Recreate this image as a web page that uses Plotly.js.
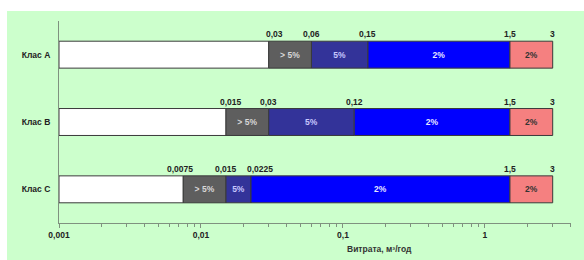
<!DOCTYPE html>
<html><head><meta charset="utf-8">
<script src="https://cdn.plot.ly/plotly-3.0.1.min.js"></script>
<style>html,body{margin:0;padding:0;background:#fff;}#chart{position:absolute;left:7px;top:11px;width:577px;height:249px;}</style>
</head><body><div id="chart"></div>
<script>
// Data
const classes = ['Клас А', 'Клас В', 'Клас С'];
const axisMin = 0.001;
const lim1 = [0.03, 0.015, 0.0075];
const lim2 = [0.06, 0.03, 0.015];
const lim3 = [0.15, 0.12, 0.0225];
const lim4 = [1.5, 1.5, 1.5];
const lim5 = [3, 3, 3];
const segLabels = ['', '> 5%', '5%', '2%', '2%'];
const tickVals = [0.001, 0.01, 0.1, 1];
const tickText = ['0,001', '0,01', '0,1', '1'];
const axisTitle = 'Витрата, м³/год';

const FONT = 'Liberation Sans, Arial, sans-serif';
const starts = [classes.map(() => axisMin), lim1, lim2, lim3, lim4];
const ends = [lim1, lim2, lim3, lim4, lim5];
const colors = ['#ffffff', '#5e5e5e', '#333399', '#0000ff', '#f58080'];
const txtColors = ['#000', '#d8d8d8', '#c8c8ff', '#e6e6ff', '#333'];

const traces = starts.map((s, i) => ({
  type: 'bar', orientation: 'h', y: classes,
  base: s, x: ends[i].map((e, k) => e - s[k]),
  width: 0.4,
  marker: {color: colors[i], line: {color: '#3a3a3a', width: 1}},
  text: classes.map(() => segLabels[i]),
  textposition: 'inside', insidetextanchor: 'middle', textangle: 0,
  textfont: {family: FONT, size: 8.5, color: txtColors[i], weight: 'bold'},
  hoverinfo: 'skip', showlegend: false, cliponaxis: false
}));

// minor tick positions on the log axis (2..9 within each decade)
const minorVals = [];
[0.001, 0.01, 0.1, 1].forEach(d => { for (let m = 2; m <= 9; m++) { if (d * m <= 4) minorVals.push(d * m); } });

const fmt = v => String(v).replace('.', ',');
const shifts = {'2-0': -3, '2-2': 9, '0-0': 6, '1-0': 5};
const anns = [];
[lim1, lim2, lim3, lim4, lim5].forEach((arr, j) => {
  arr.forEach((v, k) => {
    anns.push({x: Math.log10(v), y: k - 0.2, xref: 'x', yref: 'y',
      text: fmt(v), showarrow: false, yanchor: 'bottom', xanchor: 'center',
      xshift: shifts[k + '-' + j] || 0, yshift: 0,
      font: {family: FONT, size: 8.5, color: '#222', weight: 'bold'}});
  });
});
anns.push({x: 0.625, y: -0.13, xref: 'paper', yref: 'paper', text: axisTitle,
  showarrow: false, xanchor: 'center', yanchor: 'middle',
  font: {family: FONT, size: 8.5, color: '#333', weight: 'bold'}});

const layout = {
  width: 577, height: 249,
  margin: {l: 52, r: 13, t: 10, b: 37},
  paper_bgcolor: '#ccffcc', plot_bgcolor: 'rgba(0,0,0,0)',
  barmode: 'overlay',
  xaxis: {type: 'log', range: [-3, 0.606], showgrid: false, zeroline: false,
    showline: true, linecolor: '#7f917f', linewidth: 1,
    ticks: 'outside', ticklen: 4, tickcolor: '#7f917f',
    tickmode: 'array', tickvals: tickVals, ticktext: tickText,
    tickfont: {family: FONT, size: 8.5, color: '#222', weight: 'bold'},
    minor: {ticks: 'outside', ticklen: 3, tickcolor: '#7f917f', tickmode: 'array', tickvals: minorVals, showgrid: false}},
  yaxis: {type: 'category', range: [2.5, -0.5], showgrid: false, zeroline: false,
    showline: true, linecolor: '#7f917f', linewidth: 1, ticks: '',
    ticklabelstandoff: 6,
    tickfont: {family: FONT, size: 8.5, color: '#222', weight: 'bold'}},
  annotations: anns
};
Plotly.newPlot('chart', traces, layout, {displayModeBar: false, staticPlot: true});
</script></body></html>
